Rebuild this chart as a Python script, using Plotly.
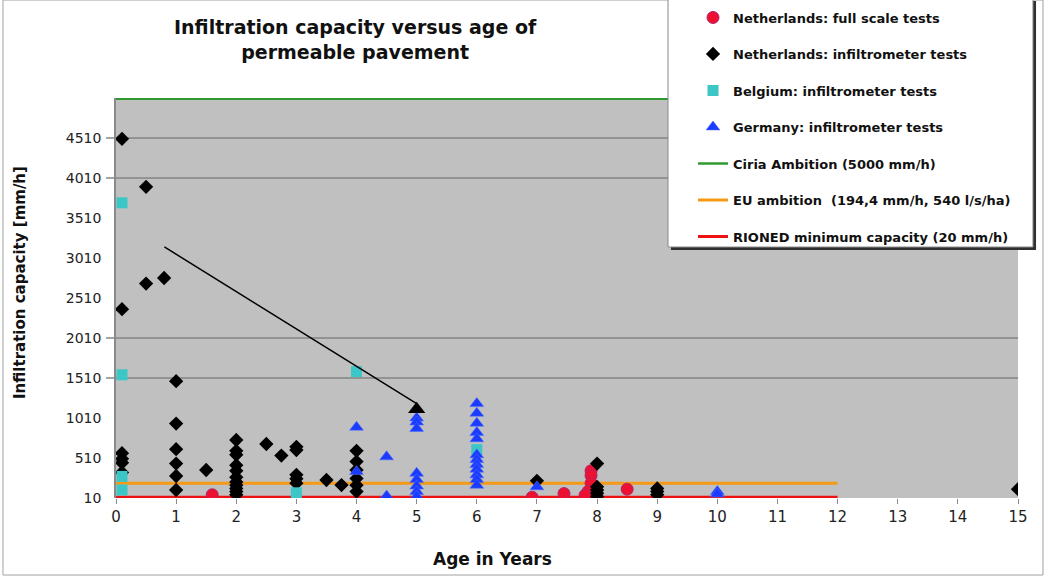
import plotly.graph_objects as go

# ---- measured data -------------------------------------------------------
# Netherlands: full scale tests (age in years, infiltration capacity mm/h)
nl_full_age = [1.6, 6.92, 7.45, 7.9, 7.9, 7.9, 7.85, 7.8, 8.5]
nl_full_cap = [50, 20, 65, 350, 290, 195, 90, 45, 120]

# Netherlands: infiltrometer tests
nl_inf_age = [0.1, 0.1, 0.1, 0.1, 0.1, 0.1,
              0.5, 0.5, 0.8,
              1, 1, 1, 1, 1, 1,
              1.5,
              2, 2, 2, 2, 2, 2, 2, 2, 2, 2, 2,
              2.5, 2.75,
              3, 3, 3, 3, 3,
              3.5, 3.75,
              4, 4, 4, 4, 4, 4,
              7,
              8, 8, 8, 8, 8,
              9, 9, 9,
              15]
nl_inf_cap = [4500, 2370, 570, 500, 450, 330,
              3900, 2690, 2760,
              1470, 940, 620, 440, 285, 110,
              360,
              735, 600, 550, 420, 350, 270, 210, 170, 130, 90, 50,
              685, 540,
              650, 610, 300, 250, 195,
              235, 172,
              600, 465, 360, 255, 170, 90,
              225,
              440, 150, 110, 70, 30,
              130, 90, 50,
              120]

# Belgium: infiltrometer tests
be_age = [0.1, 0.1, 0.1, 0.1, 3, 4, 6]
be_cap = [3700, 1550, 280, 110, 75, 1590, 615]

# Germany: infiltrometer tests
de_age = [4, 4,
          4.5, 4.5,
          5, 5, 5, 5, 5, 5, 5, 5,
          6, 6, 6, 6, 6, 6, 6, 6, 6, 6, 6, 6,
          7,
          10, 10]
de_cap = [895, 340,
          525, 35,
          1010, 960, 880, 320, 240, 160, 90, 30,
          1190, 1070, 945, 830, 750, 550, 490, 430, 370, 300, 240, 170,
          150,
          90, 60]

# Reference levels (mm/h) and the age range each one is drawn over
ciria_level, ciria_ages = 5000, [0, 15]
eu_level, eu_ages = 194.4, [0, 12]
rioned_level, rioned_ages = 20, [0, 12]

# Trend arrow (age, capacity) from start to head
arrow_start = (0.78, 3160)
arrow_end = (5.0, 1190)

# Axis ticks
x_ticks = list(range(0, 16))
y_ticks = [10, 510, 1010, 1510, 2010, 2510, 3010, 3510, 4010, 4510]
grid_values = [1510, 2010, 4010, 4510]

FONT = "DejaVu Sans, Arial, sans-serif"

fig = go.Figure()

# reference lines first so the points sit on top of them
fig.add_trace(go.Scatter(
    x=ciria_ages, y=[ciria_level] * 2, mode="lines",
    line=dict(color="#2f9a2f", width=2.5),
    name="Ciria Ambition (5000 mm/h)", legendrank=5, legendgroup="g5"))
fig.add_trace(go.Scatter(
    x=eu_ages, y=[eu_level] * 2, mode="lines",
    line=dict(color="#f59a16", width=3),
    name="EU ambition  (194,4 mm/h, 540 l/s/ha)", legendrank=6, legendgroup="g6"))
fig.add_trace(go.Scatter(
    x=rioned_ages, y=[rioned_level] * 2, mode="lines",
    line=dict(color="#ee1111", width=3),
    name="RIONED minimum capacity (20 mm/h)", legendrank=7, legendgroup="g7"))

fig.add_trace(go.Scatter(
    x=nl_full_age, y=nl_full_cap, mode="markers",
    marker=dict(symbol="circle", size=12, color="#ee1030",
                line=dict(color="#b0256a", width=1)),
    name="Netherlands: full scale tests", legendrank=1, legendgroup="g1"))
fig.add_trace(go.Scatter(
    x=nl_inf_age, y=nl_inf_cap, mode="markers",
    marker=dict(symbol="diamond", size=11, color="#000000"),
    name="Netherlands: infiltrometer tests", legendrank=2, legendgroup="g2"))
fig.add_trace(go.Scatter(
    x=be_age, y=be_cap, mode="markers",
    marker=dict(symbol="square", size=11, color="#3cc6c6"),
    name="Belgium: infiltrometer tests", legendrank=3, legendgroup="g3"))
fig.add_trace(go.Scatter(
    x=de_age, y=de_cap, mode="markers",
    marker=dict(symbol="triangle-up", size=12, color="#1b3cff",
                line=dict(color="#4a6aff", width=0.5)),
    name="Germany: infiltrometer tests", legendrank=4, legendgroup="g4"))

# triangular head of the trend arrow
fig.add_trace(go.Scatter(
    x=[arrow_end[0]], y=[arrow_end[1] - 70], mode="markers",
    marker=dict(symbol="triangle-up", size=15, color="#000000"),
    showlegend=False, hoverinfo="skip"))

shapes = []
# chart frame
shapes.append(dict(type="rect", xref="paper", yref="paper",
                   x0=-0.1253, x1=1.0277, y0=-0.1925, y1=1.245,
                   line=dict(color="#a0a0a0", width=1), layer="below"))
# horizontal gridlines with their tick marks
for g in grid_values:
    shapes.append(dict(type="line", xref="paper", yref="y",
                       x0=-0.011, x1=1, y0=g, y1=g,
                       line=dict(color="#858585", width=1.5), layer="below"))
# legend box with drop shadow
shapes.append(dict(type="rect", xref="paper", yref="paper",
                   x0=0.6153, x1=1.0200, y0=0.620, y1=1.2425,
                   fillcolor="#303030", line=dict(width=0), layer="above"))
shapes.append(dict(type="rect", xref="paper", yref="paper",
                   x0=0.6120, x1=1.0166, y0=0.6275, y1=1.26,
                   fillcolor="#ffffff", line=dict(color="#8a8a8a", width=1),
                   layer="above"))

annotations = [
    # trend arrow shaft
    dict(x=arrow_end[0], y=arrow_end[1], ax=arrow_start[0], ay=arrow_start[1],
         xref="x", yref="y", axref="x", ayref="y", text="",
         showarrow=True, arrowhead=0, arrowwidth=1.5, arrowcolor="#000000"),
    dict(text="Infiltration capacity versus age of<br>permeable pavement",
         xref="paper", yref="paper", x=0.266, y=1.146,
         xanchor="center", yanchor="middle", showarrow=False,
         font=dict(family=FONT, size=19, color="#111111", weight="bold")),
    dict(text="Age in Years", xref="paper", yref="paper",
         x=0.417, y=-0.1525, xanchor="center", yanchor="middle",
         showarrow=False,
         font=dict(family=FONT, size=17, color="#111111", weight="bold")),
    dict(text="Infiltration capacity [mm/h]", xref="paper", yref="paper",
         x=-0.1064, y=0.5375, xanchor="center", yanchor="middle",
         textangle=-90, showarrow=False,
         font=dict(family=FONT, size=15, color="#111111", weight="bold")),
]

fig.update_layout(
    width=1046, height=577,
    margin=dict(l=116, r=28, t=98, b=79, autoexpand=False),
    paper_bgcolor="#ffffff", plot_bgcolor="#c0c0c0",
    font=dict(family=FONT, color="#222222"),
    shapes=shapes, annotations=annotations,
    showlegend=True,
    legend=dict(x=0.6397, y=1.2387, xanchor="left", yanchor="top",
                bgcolor="rgba(0,0,0,0)", borderwidth=0,
                traceorder="grouped", tracegroupgap=16.6,
                font=dict(family=FONT, size=13, color="#111111", weight="bold")),
    xaxis=dict(range=[0, 15], tickvals=x_ticks, ticks="outside", ticklen=5,
               tickcolor="#8a8a8a", showgrid=False, zeroline=False,
               showline=False, ticklabelstandoff=0,
               tickfont=dict(family=FONT, size=15, color="#222222")),
    yaxis=dict(range=[10, 5010], tickvals=y_ticks, ticks="", showgrid=False,
               zeroline=False, showline=True, linecolor="#8a8a8a", linewidth=1.5,
               ticklabelstandoff=10,
               tickfont=dict(family=FONT, size=14, color="#222222")),
)

fig.write_html("out.html")
